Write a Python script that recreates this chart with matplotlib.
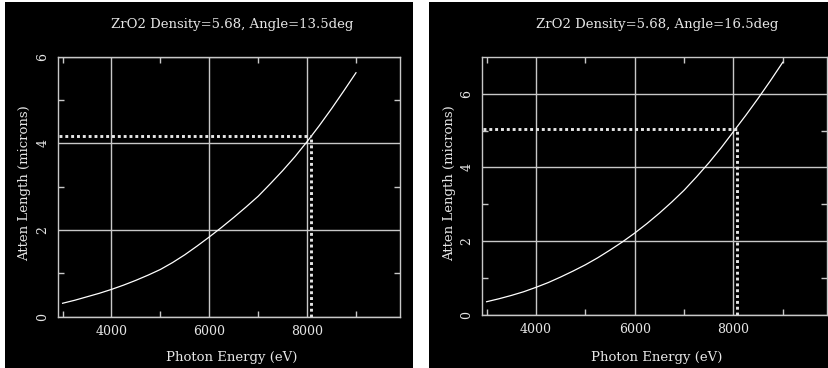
import matplotlib
matplotlib.use("Agg")
import matplotlib.pyplot as plt
from matplotlib.patches import Rectangle

# ---------------
# data
# ---------------
energy = [3000, 3250, 3500, 3750, 4000, 4250, 4500, 4750, 5000, 5250, 5500, 5750, 6000,
          6250, 6500, 6750, 7000, 7250, 7500, 7750, 8000, 8250, 8500, 8750, 9000]
atten_135 = [0.31, 0.38, 0.46, 0.54, 0.63, 0.73, 0.84, 0.96, 1.09, 1.25, 1.43, 1.63, 1.84,
             2.06, 2.29, 2.53, 2.78, 3.07, 3.37, 3.69, 4.04, 4.41, 4.80, 5.21, 5.63]
atten_165 = [0.36, 0.44, 0.53, 0.63, 0.75, 0.88, 1.03, 1.19, 1.36, 1.55, 1.76, 1.98, 2.22,
             2.48, 2.76, 3.06, 3.38, 3.74, 4.12, 4.53, 4.97, 5.41, 5.87, 6.35, 6.85]
marker_energy = 8070
marker_135 = 4.16
marker_165 = 5.03
titles = ["ZrO2 Density=5.68, Angle=13.5deg", "ZrO2 Density=5.68, Angle=16.5deg"]

plt.rcParams['font.family'] = ['DejaVu Serif']
fg = '#e6e6e6'
axc = '#c8c8c8'
fs = 9.5

fig = plt.figure(figsize=(8.29, 3.68), dpi=100, facecolor='white')
W, H = 829.0, 368.0

# black panels
for x0, x1 in [(5, 413), (429, 829)]:
    fig.add_artist(Rectangle((x0 / W, 0), (x1 - x0) / W, (H - 2) / H,
                             transform=fig.transFigure, facecolor='black',
                             edgecolor='none', zorder=0))


def draw_panel(rect, ylim, yminor, y, mark_y, title, title_x, ylab_x, xlab_x):
    ax = fig.add_axes(rect)
    ax.set_facecolor('black')
    ax.set_xlim(2900, 9900)
    ax.set_ylim(*ylim)
    for s in ax.spines.values():
        s.set_color(axc)
        s.set_linewidth(1)
    ax.set_xticks([4000, 6000, 8000])
    ax.set_xticks([3000, 5000, 7000, 9000], minor=True)
    ax.set_yticks([0, 2, 4, 6])
    ax.set_yticks(yminor, minor=True)
    ax.tick_params(which='both', direction='in', colors=axc, top=True, right=True,
                   labelcolor=fg, labelsize=9)
    ax.tick_params(which='major', length=0)
    ax.tick_params(which='minor', length=4, width=1)
    ax.tick_params(axis='x', pad=6)
    ax.tick_params(axis='y', pad=6)
    for lab in ax.get_yticklabels():
        lab.set_rotation(90)
        lab.set_va('center')
    ax.grid(True, which='major', color=axc, linewidth=1)
    ax.plot(energy, y, color='white', linewidth=0.9, zorder=3)
    # dotted marker lines at the Cu K-alpha energy
    ax.plot([marker_energy, marker_energy], [0, mark_y], color=fg, linewidth=2.1,
            dashes=(1, 1), zorder=4)
    ax.plot([2925, marker_energy], [mark_y, mark_y], color=fg, linewidth=2.1,
            dashes=(1, 1), zorder=4)
    fig.text(title_x / W, 1 - 24.5 / H, title, color=fg, fontsize=fs,
             ha='center', va='center')
    fig.text(ylab_x / W, 1 - 183 / H, 'Atten Length (microns)', color=fg,
             fontsize=fs, rotation=90, ha='center', va='center')
    fig.text(xlab_x / W, 1 - 357 / H, 'Photon Energy (eV)',
             color=fg, fontsize=fs, ha='center', va='center')
    return ax


draw_panel([57.7 / W, 51.3 / H, 342.3 / W, 260 / H], (0, 6), [1, 3, 5],
           atten_135, marker_135, titles[0], 232.5, 25, 232)
draw_panel([481.7 / W, 53 / H, 345.5 / W, 258.3 / H], (0, 7), [1, 3, 5],
           atten_165, marker_165, titles[1], 657.5, 449.3, 657)

fig.savefig('out.png', dpi=100, facecolor='white')
